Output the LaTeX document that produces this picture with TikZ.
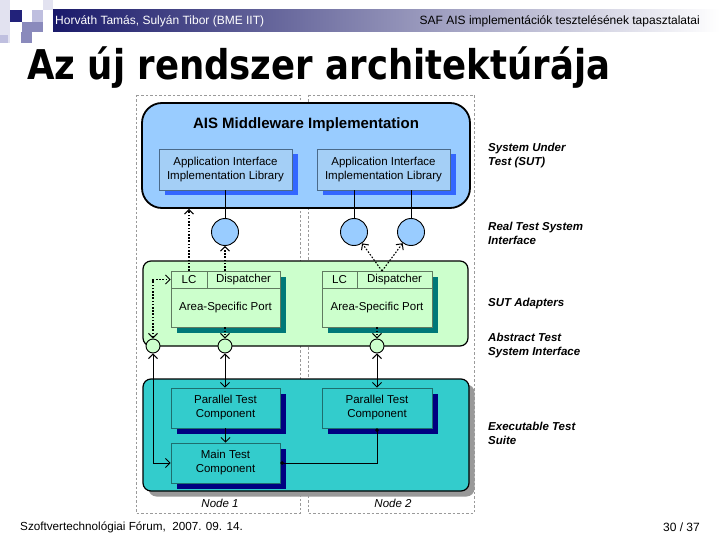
\documentclass[tikz,border=0pt]{standalone}
\usepackage{fontspec}
\setmainfont{Liberation Sans}
\newfontfamily\titlefont{DejaVu Sans}
\usetikzlibrary{arrows.meta,shadows}
\definecolor{hdnavy}{HTML}{1A1A6A}
\definecolor{sqnavy}{HTML}{22227A}
\definecolor{sqlav}{HTML}{BFBFDF}
\definecolor{sqmed}{HTML}{8A8ABC}
\definecolor{sqpale}{HTML}{E2E2F0}
\definecolor{sutblue}{HTML}{99CCFF}
\definecolor{libfill}{HTML}{A4CFF6}
\definecolor{libborder}{HTML}{4A6A8A}
\definecolor{libshadow}{HTML}{3366FF}
\definecolor{adgreen}{HTML}{CCFFCC}
\definecolor{aspshadow}{HTML}{007878}
\definecolor{aspborder}{HTML}{607A60}
\definecolor{suiteteal}{HTML}{33CCCC}
\definecolor{ptcborder}{HTML}{1E6E6E}
\definecolor{ptcshadow}{HTML}{000080}
\definecolor{framegray}{HTML}{9A9A9A}
\tikzset{
  shadowed/.style={drop shadow={shadow xshift=5.5pt,shadow yshift=-5.5pt,opacity=1,fill=#1,draw=none}},
  boxfont/.style={font=\fontsize{11.5}{14}\selectfont},
  frame/.style={draw=framegray, line width=0.8pt, dash pattern=on 2.5pt off 2pt},
  sutbox/.style={draw=black, line width=1.8pt, rounded corners=20pt, fill=sutblue, inner sep=0pt},
  libbox/.style={draw=libborder, line width=0.6pt, fill=libfill, boxfont, align=center, inner sep=0pt, shadowed=libshadow},
  adbox/.style={draw=black, line width=1.2pt, rounded corners=8pt, fill=adgreen, inner sep=0pt},
  aspbox/.style={draw=aspborder, line width=0.6pt, fill=adgreen, boxfont, inner sep=0pt, shadowed=aspshadow},
  cellbox/.style={draw=aspborder, line width=0.6pt, fill=adgreen, boxfont, inner sep=0pt},
  suitebox/.style={draw=black, line width=1.2pt, rounded corners=8pt, fill=suiteteal, inner sep=0pt, shadowed=black!40},
  ptcbox/.style={draw=ptcborder, line width=0.6pt, fill=suiteteal, boxfont, align=center, inner sep=0pt, shadowed=ptcshadow},
  bigport/.style={circle, draw=black, line width=0.9pt, fill=sutblue, minimum size=27pt, inner sep=0pt},
  smallport/.style={circle, draw=black, line width=0.9pt, fill=adgreen, minimum size=14pt, inner sep=0pt},
  conn/.style={draw=black, line width=1pt},
  dconn/.style={draw=black, line width=1.1pt, dash pattern=on 1.6pt off 1.6pt},
  layer/.style={anchor=west, align=left, inner xsep=0pt, font=\fontsize{11.5}{14}\selectfont\bfseries\itshape},
  nodelabel/.style={font=\fontsize{11.5}{14}\selectfont\itshape},
}
\begin{document}
\begin{tikzpicture}[x=1pt,y=-1pt, >={Straight Barb[length=4.5pt,width=9pt,line width=1pt]}]
\useasboundingbox (0,0) rectangle (720,540);
\fill[white] (0,0) rectangle (720,540);
% header decoration
\fill[sqpale] (0,0) rectangle (10,43);
\fill[sqnavy] (10,10) rectangle (22,22);
\fill[sqmed] (22,22) rectangle (43,32);
\fill[sqlav] (32,10) rectangle (43,22);
\fill[sqpale] (43,0) rectangle (53,10);
\fill[sqmed] (21,32) rectangle (32,43);
\fill[sqlav] (0,35) rectangle (8,43);
\shade[left color=hdnavy, right color=white] (53,10) rectangle (720,32);
\node[anchor=west, text=white, inner sep=0pt, font=\fontsize{12}{14}\selectfont] (hdl) at (55,21) {Horváth Tamás, Sulyán Tibor (BME IIT)};
\node[anchor=east, text=black, inner sep=0pt, font=\fontsize{12}{14}\selectfont] (hdr) at (700,21) {SAF AIS implementációk tesztelésének tapasztalatai};
% title
\node[anchor=base west, inner sep=0pt] (title) at (27,80) {\resizebox{583pt}{\height}{\titlefont\bfseries\fontsize{41}{44}\selectfont Az új rendszer architektúrája}};
% node frames
\draw[frame] (136,95) rectangle (300,513);
\draw[frame] (308,95) rectangle (474,513);
% SUT
\node[sutbox, minimum width=328pt, minimum height=105pt] (sut) at (306,155.5) {};
\node[font=\fontsize{15}{17}\selectfont\bfseries] (suttitle) at (306,124.5) {AIS Middleware Implementation};
\node[libbox, minimum width=133pt, minimum height=41pt] (lib1) at (225.5,169.5) {Application Interface\\Implementation Library};
\node[libbox, minimum width=133pt, minimum height=41pt] (lib2) at (383.5,169.5) {Application Interface\\Implementation Library};
% real ports
\node[bigport] (c1) at (225,232) {};
\node[bigport] (c2) at (354,232) {};
\node[bigport] (c3) at (411,232) {};
% adapters
\node[adbox, minimum width=325pt, minimum height=85pt] (ad) at (305.5,303.5) {};
\node[aspbox, minimum width=109pt, minimum height=56pt] (asp1) at (225.5,299) {};
\node[anchor=center, boxfont] (asp1t) at (225.5,307.5) {Area-Specific Port};
\node[cellbox, minimum width=36pt, minimum height=17pt] (lc1) at (189,279.5) {LC};
\node[cellbox, minimum width=73pt, minimum height=17pt] (dp1) at (243.5,279.5) {Dispatcher};
\node[aspbox, minimum width=110pt, minimum height=56pt] (asp2) at (377,299) {};
\node[anchor=center, boxfont] (asp2t) at (377,307.5) {Area-Specific Port};
\node[cellbox, minimum width=35pt, minimum height=17pt] (lc2) at (339.5,279.5) {LC};
\node[cellbox, minimum width=75pt, minimum height=17pt] (dp2) at (394.5,279.5) {Dispatcher};
\coordinate (dp2top) at (382,271);
% abstract ports
\node[smallport] (a1) at (153,346) {};
\node[smallport] (a2) at (225,346) {};
\node[smallport] (a3) at (377,346) {};
% suite
\node[suitebox, minimum width=326pt, minimum height=112pt] (suite) at (306,435) {};
\node[ptcbox, minimum width=109pt, minimum height=40pt] (ptc1) at (225.5,408) {Parallel Test\\Component};
\node[ptcbox, minimum width=110pt, minimum height=40pt] (ptc2) at (377,408) {Parallel Test\\Component};
\node[ptcbox, minimum width=109pt, minimum height=40pt] (mtc) at (225.5,463) {Main Test\\Component};
% connectors
\draw[conn] (c1.north) -- (c1 |- lib1.south);
\draw[conn] (c2.north) -- (c2 |- lib2.south);
\draw[conn] (c3.north) -- (c3 |- lib2.south);
\draw[dconn, ->] (lc1.north) -- (lc1.north |- sut.south);
\draw[dconn, ->] (c1 |- dp1.north) -- (c1.south);
\draw[dconn, ->] (dp2top) -- (c2);
\draw[dconn, ->] (dp2top) -- (c3);
\draw[dconn, <->] (a1.north) |- (lc1.west);
\draw[dconn, ->] (a2 |- asp1.south) -- (a2.north);
\draw[dconn, ->] (a3 |- asp2.south) -- (a3.north);
\draw[conn, <->] (a1.south) |- (mtc.west);
\draw[conn, <->] (a2.south) -- (a2 |- ptc1.north);
\draw[conn, <->] (a3.south) -- (a3 |- ptc2.north);
\draw[conn, ->] (ptc1.south) -- (mtc.north);
\draw[conn, {Circle[length=3.5pt]}-{Circle[length=3.5pt]}] (ptc2.south) |- (mtc.east);
% labels
\node[nodelabel] (n1) at (220,503) {Node 1};
\node[nodelabel] (n2) at (393,503) {Node 2};
\node[layer] (l1) at (488,155.5) {System Under\\Test (SUT)};
\node[layer] (l2) at (488,233) {Real Test System\\Interface};
\node[layer] (l3) at (488,303.5) {SUT Adapters};
\node[layer] (l4) at (488,346) {Abstract Test\\System Interface};
\node[layer] (l5) at (488,433) {Executable Test\\Suite};
% footer
\node[anchor=west, inner sep=0pt, font=\fontsize{11.7}{14}\selectfont] (foot) at (20,527) {Szoftvertechnológiai Fórum,\ \ 2007. 09. 14.};
\node[anchor=east, inner sep=0pt, font=\fontsize{12}{14}\selectfont] (page) at (700,527) {30 / 37};
\end{tikzpicture}
\end{document}
